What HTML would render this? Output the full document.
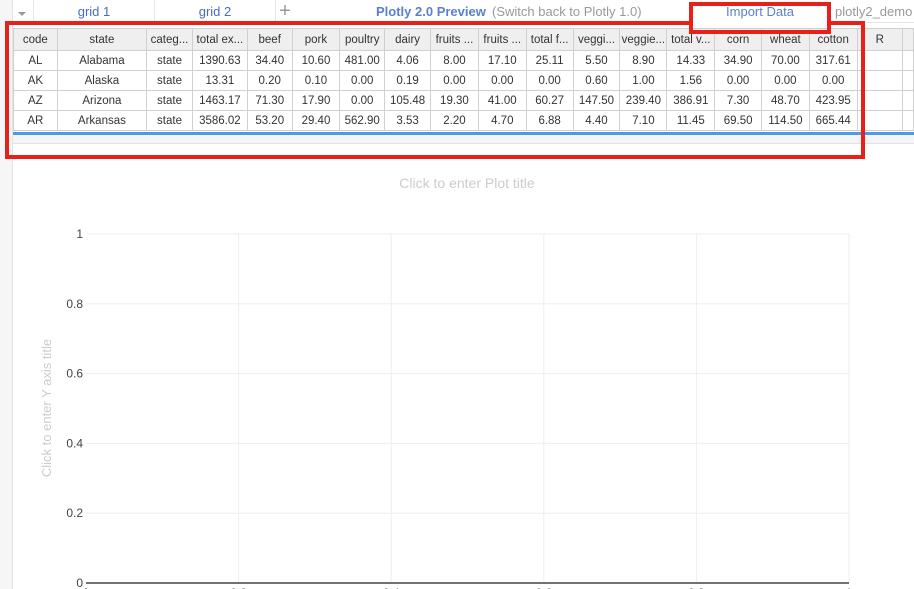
<!DOCTYPE html>
<html><head><meta charset="utf-8"><style>
body{margin:0;width:914px;height:589px;overflow:hidden;background:#fff;font-family:"Liberation Sans",sans-serif;position:relative}
.abs{position:absolute}
.tab{position:absolute;top:0;height:22px;line-height:24px;font-size:13px;color:#4c6bbd;text-align:center}
table{position:absolute;left:13px;top:28px;border-collapse:collapse;font-size:11.5px;color:#333}
td,th{border:1px solid #d0d0d0;height:19px;padding:0;text-align:center;font-weight:normal;white-space:nowrap;overflow:hidden}
th{background:#efefef;height:21px}
</style></head><body>
<div class="abs" style="left:0;top:0;width:12px;height:589px;background:#f6f6f6;border-right:1px solid #e2e2e2"></div>
<div class="abs" style="left:13px;top:0;width:901px;height:22px;background:#fff;border-bottom:1px solid #e6e6e6"></div>
<div class="abs" style="left:18px;top:12px;width:0;height:0;border-left:4px solid transparent;border-right:4px solid transparent;border-top:4px solid #999"></div>
<div class="tab" style="left:33px;width:120px;border-left:1px solid #e6e6e6">grid 1</div>
<div class="tab" style="left:154px;width:120px;border-left:1px solid #e6e6e6;border-right:1px solid #e6e6e6">grid 2</div>
<div class="tab" style="left:276px;width:18px;color:#999;font-size:20px;line-height:22px">+</div>
<div class="tab" style="left:376px;width:110px;text-align:left;font-weight:bold;color:#5b7fd0">Plotly 2.0 Preview</div>
<div class="tab" style="left:492px;width:150px;text-align:left;color:#999">(Switch back to Plotly 1.0)</div>
<div class="tab" style="left:835px;width:90px;text-align:left;color:#999">plotly2_demo</div>

<table>
<tr>
<th style="width:43px">code</th><th style="width:89px">state</th><th style="width:45px">categ...</th><th style="width:54px">total ex...</th><th style="width:44px">beef</th><th style="width:47px">pork</th><th style="width:44px">poultry</th><th style="width:45px">dairy</th><th style="width:47px">fruits ...</th><th style="width:47px">fruits ...</th><th style="width:46px">total f...</th><th style="width:46px">veggi...</th><th style="width:46px">veggie...</th><th style="width:47px">total v...</th><th style="width:46px">corn</th><th style="width:47px">wheat</th><th style="width:47px">cotton</th><th style="width:45px">R</th><th style="width:10px"></th></tr>
<tr><td>AL</td><td>Alabama</td><td>state</td><td>1390.63</td><td>34.40</td><td>10.60</td><td>481.00</td><td>4.06</td><td>8.00</td><td>17.10</td><td>25.11</td><td>5.50</td><td>8.90</td><td>14.33</td><td>34.90</td><td>70.00</td><td>317.61</td><td></td><td></td></tr>
<tr><td>AK</td><td>Alaska</td><td>state</td><td>13.31</td><td>0.20</td><td>0.10</td><td>0.00</td><td>0.19</td><td>0.00</td><td>0.00</td><td>0.00</td><td>0.60</td><td>1.00</td><td>1.56</td><td>0.00</td><td>0.00</td><td>0.00</td><td></td><td></td></tr>
<tr><td>AZ</td><td>Arizona</td><td>state</td><td>1463.17</td><td>71.30</td><td>17.90</td><td>0.00</td><td>105.48</td><td>19.30</td><td>41.00</td><td>60.27</td><td>147.50</td><td>239.40</td><td>386.91</td><td>7.30</td><td>48.70</td><td>423.95</td><td></td><td></td></tr>
<tr><td>AR</td><td>Arkansas</td><td>state</td><td>3586.02</td><td>53.20</td><td>29.40</td><td>562.90</td><td>3.53</td><td>2.20</td><td>4.70</td><td>6.88</td><td>4.40</td><td>7.10</td><td>11.45</td><td>69.50</td><td>114.50</td><td>665.44</td><td></td><td></td></tr>
</table>
<div class="abs" style="left:13px;top:132px;width:901px;height:3px;background:#4a9be8"></div>
<div class="abs" style="left:13px;top:135px;width:901px;height:8px;background:#f4f4f4;border-bottom:1px solid #e2e2e2"></div>
<div class="abs" style="left:5px;top:21px;width:852px;height:130px;border:4px solid #e8201a"></div>
<div class="abs" style="left:693px;top:21px;width:134px;height:5px;background:#fff"></div>
<div class="abs" style="left:689px;top:2px;width:134px;height:24px;border:4px solid #e8201a"></div>
<div class="tab" style="left:689px;width:142px;color:#5b7fd0">Import Data</div>

<svg class="abs" style="left:0;top:0" width="914" height="589">
<text x="467" y="188" text-anchor="middle" font-size="14" fill="#ccc" font-family="Liberation Sans,sans-serif">Click to enter Plot title</text>
<text transform="translate(51,408) rotate(-90)" text-anchor="middle" font-size="13" fill="#ccc" font-family="Liberation Sans,sans-serif">Click to enter Y axis title</text>
<g id="grid"></g><g id="ticks"></g>
</svg>
<script>
const xTicks=[0,0.2,0.4,0.6,0.8,1];
const yTicks=[0,0.2,0.4,0.6,0.8,1];
const xTickLabels=["0","0.2","0.4","0.6","0.8","1"];
const yTickLabels=["0","0.2","0.4","0.6","0.8","1"];
const X0=86,X1=849,Y0=583,Y1=234;
const xs=v=>X0+(X1-X0)*v, ys=v=>Y0-(Y0-Y1)*v;
const NS="http://www.w3.org/2000/svg";
const g=document.getElementById('grid'),t=document.getElementById('ticks');
function mk(tag,a,p){const e=document.createElementNS(NS,tag);for(const k in a)e.setAttribute(k,a[k]);p.appendChild(e);return e;}
xTicks.forEach((v,i)=>{
 if(v>0){const l=mk('line',{x1:xs(v),x2:xs(v),y1:Y1,y2:Y0,stroke:'#eee','stroke-width':1},g);
 
 }
 const tx=mk('text',{x:xs(v),y:597,'text-anchor':'middle','font-size':12,fill:'#444','font-family':'Liberation Sans,sans-serif'},t);
 tx.textContent=xTickLabels[i];
 
 
});
yTicks.forEach((v,i)=>{
 if(v>0){const l=mk('line',{x1:X0,x2:X1,y1:ys(v),y2:ys(v),stroke:'#eee','stroke-width':1},g);
 
 }
 const tx=mk('text',{x:X0-3,y:ys(v)+4,'text-anchor':'end','font-size':12,fill:'#444','font-family':'Liberation Sans,sans-serif'},t);
 tx.textContent=yTickLabels[i];
 
 
});
const ax=mk('line',{x1:X0,x2:X1,y1:Y0,y2:Y0,stroke:'#444','stroke-width':1.5},t);


</script>
</body></html>
